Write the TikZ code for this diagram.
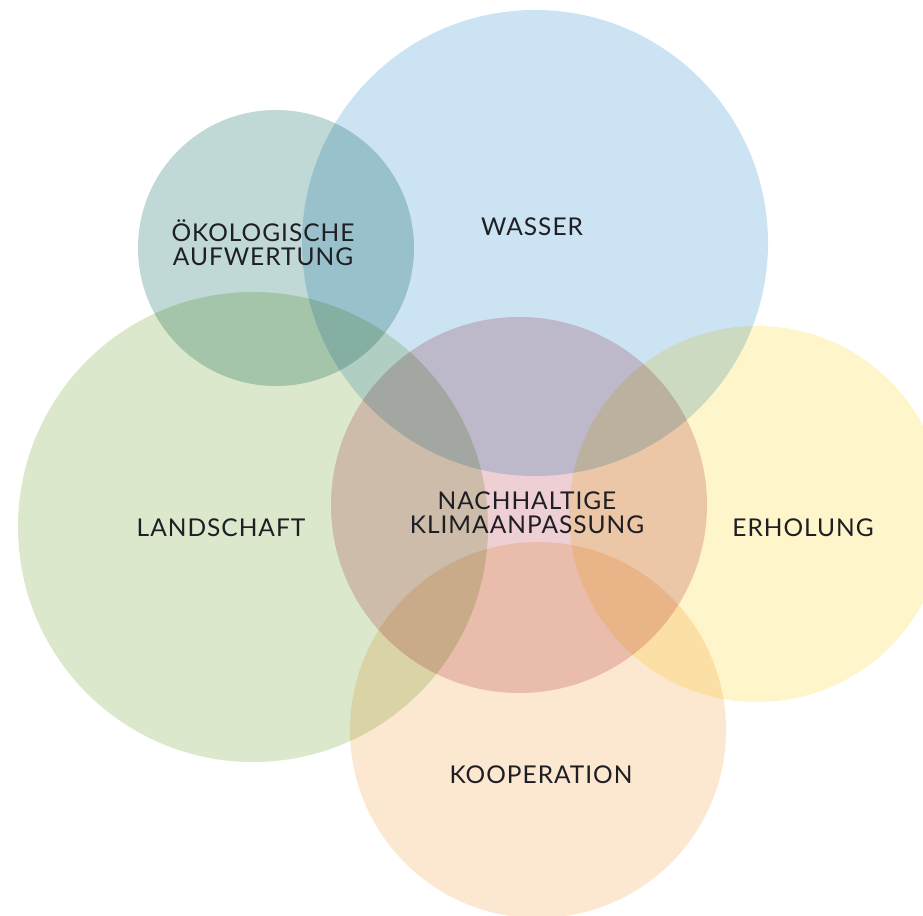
\documentclass[tikz,border=0pt]{standalone}
\usepackage{fontspec}
\setmainfont{Lato}
\newfontfamily\lblfont[LetterSpace=4]{Lato}
\definecolor{cwasser}{RGB}{204,227,243}
\definecolor{coeko}{RGB}{192,217,214}
\definecolor{cland}{RGB}{220,232,204}
\definecolor{cerh}{RGB}{254,246,202}
\definecolor{ckoop}{RGB}{252,232,208}
\definecolor{cnach}{RGB}{237,207,212}
\definecolor{ctext}{RGB}{30,30,35}
\begin{document}
\begin{tikzpicture}[x=1pt,y=1pt,
  lbl/.style={font=\lblfont\fontsize{24.5}{24}\selectfont, text=ctext, align=center, inner sep=0pt}]
\clip (0,0) rectangle (923,915);
\fill[white] (0,0) rectangle (923,915);
\begin{scope}[blend group=multiply]
  \fill[cland]   (253,388) circle (235);
  \fill[cwasser] (535,672) circle (233);
  \fill[coeko]   (276,667) circle (138);
  \fill[cerh]    (757,401) circle (188);
  \fill[ckoop]   (538,185) circle (188);
  \fill[cnach]   (519,410) circle (188);
\end{scope}
\node[lbl] (oeko) at (263,672) {ÖKOLOGISCHE\\AUFWERTUNG};
\node[lbl] (wasser) at (532,688) {WASSER};
\node[lbl] (nach) at (527,402) {NACHHALTIGE\\KLIMAANPASSUNG};
\node[lbl] (land) at (221,387) {LANDSCHAFT};
\node[lbl] (erh) at (803,387) {ERHOLUNG};
\node[lbl] (koop) at (541,140) {KOOPERATION};
\end{tikzpicture}
\end{document}
